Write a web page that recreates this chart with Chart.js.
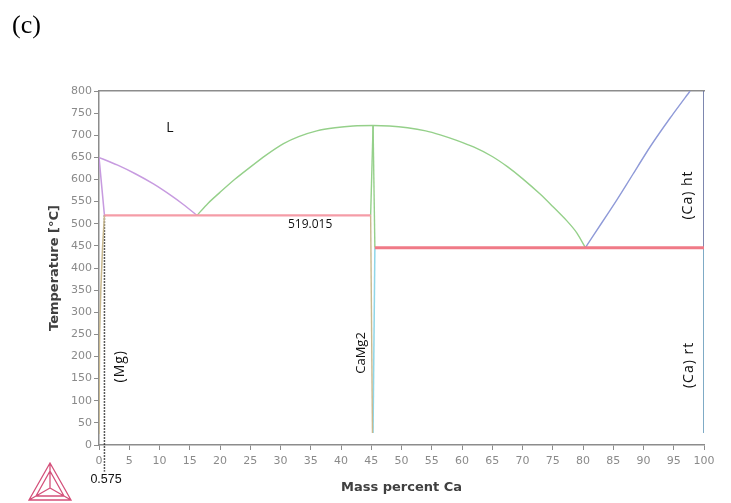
<!DOCTYPE html>
<html>
<head>
<meta charset="utf-8">
<script src="https://cdn.jsdelivr.net/npm/chart.js@4.4.1/dist/chart.umd.min.js"></script>
<style>
  body { margin: 0; background: #fff; }
  #wrap { position: relative; width: 731px; height: 503px; }
  #panel { position: absolute; left: 12px; top: 12px; font: 26px "Liberation Serif"; line-height: 1; color: #000; }
</style>
</head>
<body>
<div id="wrap">
  <canvas id="diagrama" width="731" height="503"></canvas>
  <div id="panel">(c)</div>
</div>
<script>
const liquidusMg = [[0, 650], [3, 633], [6, 613], [9, 590], [12, 563], [14, 543], [16.2, 519]];
const solidusMg = [[0, 650], [0.9, 519]];
const solvusMg = [[0.9, 519], [0.6, 450], [0.3, 350], [0.1, 250], [0, 120], [0, 25]];
const eutecticoMg = [[0.9, 519.015], [44.9, 519.015]];
const liquidusCaMg2 = [[16.2, 519], [18, 546], [20, 571], [22.5, 601], [25, 628], [27.5, 654], [30.5, 681],
  [33, 697], [36, 710], [39, 717], [42, 721], [45.3, 722], [48, 721], [51, 717], [54, 710], [56.4, 701],
  [59, 689], [62, 673], [65, 652], [67.5, 629], [70, 602], [73, 566], [75, 539], [77.3, 507], [79, 479],
  [80.4, 446]];
const caMg2Izq = [[45.3, 722], [44.9, 519]];
const caMg2Der = [[45.3, 722], [45.6, 446]];
const caMg2BajoIzq = [[44.9, 519], [45.2, 27]];
const caMg2BajoDer = [[45.6, 446], [45.3, 27]];
const eutecticoCa = [[45.6, 446], [100, 446]];
const liquidusCa = [[80.4, 446], [83, 500], [85.6, 554], [88.3, 613], [91.1, 674], [94.4, 739], [97.7, 800]];
const caAlta = [[100, 800], [100, 446]];
const caBaja = [[100, 446], [100, 27]];
const lineaPunteada = [[0.9, 519], [0.9, -60]];

const ticksX = { min: 0, max: 100, paso: 5 };
const ticksY = { min: 0, max: 800, paso: 50 };
const rotulos = ['L', '(Mg)', 'CaMg2', '(Ca) ht', '(Ca) rt', '519.015', '0.575'];

// Convierte pares en puntos para Chart.js
const aPuntos = pares => pares.map(p => ({ x: p[0], y: p[1] }));

function serie(pares, color, ancho, extra) {
  return Object.assign({
    data: aPuntos(pares),
    borderColor: color,
    borderWidth: ancho,
    pointRadius: 0,
    fill: false,
    tension: 0,
    xAxisID: 'x',
    yAxisID: 'y'
  }, extra || {});
}

const datasets = [
  serie(eutecticoMg, '#f59ca7', 2.2),
  serie(eutecticoCa, '#f07a87', 3),
  serie(liquidusMg, '#c79be0', 1.5, { tension: 0.2 }),
  serie(solidusMg, '#c79be0', 1.5),
  serie(solvusMg, '#c9b98f', 1.5),
  serie(liquidusCaMg2, '#95d08a', 1.4, { tension: 0.2 }),
  serie(caMg2Izq, '#95d08a', 1.4),
  serie(caMg2Der, '#95d08a', 1.4),
  serie(caMg2BajoIzq, '#c9b98f', 1.4),
  serie(caMg2BajoDer, '#8fd6e8', 1.5),
  serie(liquidusCa, '#8f9ad8', 1.4, { tension: 0.2 }),
  serie(caAlta, '#5d6a9c', 1.6),
  serie(caBaja, '#5f96b8', 1.6),
  serie(lineaPunteada, '#222', 1.5, { borderDash: [1.5, 1.5], clip: false })
];

// Posición de cada rótulo en unidades de datos
const posRotulos = [
  { x: 11.7, y: 716, rot: 0, font: '14px "Open Sans"', esp: '0px' },
  { x: 3.5, y: 178, rot: -Math.PI / 2, font: '14px "Open Sans"', esp: '1px' },
  { x: 43.4, y: 208, rot: -Math.PI / 2, font: '13px "Open Sans"', esp: '0px' },
  { x: 97.4, y: 565, rot: -Math.PI / 2, font: '14px "Open Sans"', esp: '1px' },
  { x: 97.5, y: 181, rot: -Math.PI / 2, font: '14px "Open Sans"', esp: '1px' },
  { x: 34.9, y: 497, rot: 0, font: '12px "Open Sans"', esp: '0px' },
  { x: 1.16, y: -77, rot: 0, font: '12.5px "Liberation Sans"', esp: '0px' }
];

const rotulosPlugin = {
  id: 'rotulos',
  afterDatasetsDraw(chart) {
    const { ctx, scales } = chart;
    ctx.save();
    ctx.fillStyle = '#111';
    ctx.textAlign = 'center';
    ctx.textBaseline = 'middle';
    rotulos.forEach((texto, i) => {
      const p = posRotulos[i];
      ctx.save();
      ctx.translate(scales.x.getPixelForValue(p.x), scales.y.getPixelForValue(p.y));
      ctx.rotate(p.rot);
      ctx.font = p.font;
      ctx.letterSpacing = p.esp;
      ctx.fillText(texto, 0, 0);
      ctx.restore();
    });
    ctx.restore();
  },
  afterDraw(chart) {
    // Logo triangular en la esquina inferior izquierda
    const ctx = chart.ctx;
    ctx.save();
    ctx.strokeStyle = '#d4507a';
    ctx.lineWidth = 1.3;
    const a = [50, 463], b = [29, 500], c = [71, 500], m = [50, 488];
    ctx.beginPath();
    ctx.moveTo(a[0], a[1]); ctx.lineTo(b[0], b[1]); ctx.lineTo(c[0], c[1]); ctx.closePath();
    ctx.moveTo(50, 471); ctx.lineTo(36, 496); ctx.lineTo(64, 496); ctx.closePath();
    [a, b, c].forEach(v => { ctx.moveTo(m[0], m[1]); ctx.lineTo(v[0], v[1]); });
    ctx.stroke();
    ctx.restore();
  }
};

const gris = '#8c8c8c';

const config = {
  type: 'line',
  data: { datasets },
  options: {
    responsive: false,
    animation: false,
    events: [],
    layout: { padding: { top: 91, right: 27, left: 0, bottom: 0 } },
    plugins: { legend: { display: false }, tooltip: { enabled: false } },
    scales: {
      x: {
        type: 'linear',
        min: ticksX.min,
        max: ticksX.max,
        afterFit: s => { s.height = 58; },
        border: { display: true, color: gris, width: 1.5 },
        grid: { drawOnChartArea: false, drawTicks: true, tickLength: 5, color: gris },
        ticks: {
          stepSize: ticksX.paso,
          autoSkip: false,
          maxRotation: 0,
          padding: 5,
          color: '#8a8a8a',
          font: { family: 'DejaVu Sans', size: 11 }
        },
        title: {
          display: true,
          text: 'Mass percent Ca',
          color: '#404040',
          font: { family: 'DejaVu Sans', size: 13, weight: 'bold' },
          padding: { top: 0, bottom: 8 }
        }
      },
      xTop: {
        type: 'linear',
        position: 'top',
        min: ticksX.min,
        max: ticksX.max,
        afterFit: s => { s.height = 0; },
        border: { display: true, color: gris, width: 1.5 },
        grid: { display: false },
        ticks: { display: false }
      },
      y: {
        type: 'linear',
        min: ticksY.min,
        max: ticksY.max,
        afterFit: s => { s.width = 99; },
        border: { display: true, color: gris, width: 1.5 },
        grid: { drawOnChartArea: false, drawTicks: true, tickLength: 5, color: gris },
        ticks: {
          stepSize: ticksY.paso,
          padding: 2,
          color: '#8a8a8a',
          font: { family: 'DejaVu Sans', size: 11 }
        },
        title: {
          display: true,
          text: 'Temperature [°C]',
          color: '#404040',
          font: { family: 'DejaVu Sans', size: 13, weight: 'bold' },
          padding: { top: 47, bottom: 0 }
        }
      }
    }
  },
  plugins: [rotulosPlugin]
};

new Chart(document.getElementById('diagrama'), config);
</script>
</body>
</html>
